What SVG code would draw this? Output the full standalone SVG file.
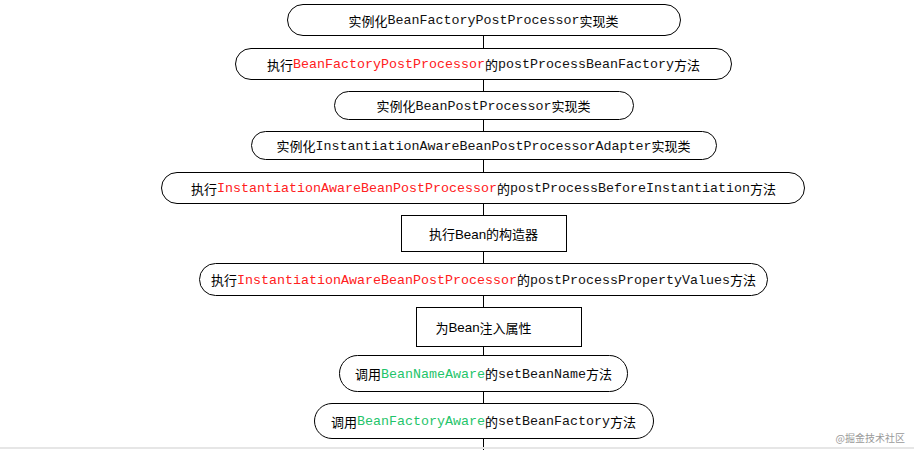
<svg xmlns="http://www.w3.org/2000/svg" width="914" height="450" viewBox="0 0 914 450">
<style>
.n{fill:#fff;stroke:#000;stroke-width:1}
.c{stroke:#000;stroke-width:1;fill:none}
text{font-family:"Noto Sans CJK SC","Liberation Sans",sans-serif;font-size:13px;fill:#000;text-anchor:middle;dominant-baseline:central}
.m{font-family:"Liberation Mono",monospace;font-size:13.33px;fill:#111}
.s{font-family:"Liberation Sans",sans-serif;font-size:13.33px}
.r{fill:#ff2020}
.g{fill:#1fc46a}
.w{font-size:10px;fill:#9a9a9a;text-anchor:end}
</style>
<rect x="0" y="0" width="914" height="450" fill="#fff"/>
<g id="connectors">
<line class="c" x1="483.5" y1="35" x2="483.5" y2="450"/>
</g>
<g id="n1"><rect class="n" x="287.5" y="4.5" width="393" height="31" rx="15.5"/><text x="483.5" y="20">实例化<tspan class="m">BeanFactoryPostProcessor</tspan>实现类</text></g>
<g id="n2"><rect class="n" x="235.5" y="48.5" width="496" height="31" rx="15.5"/><text x="483.5" y="64">执行<tspan class="m r">BeanFactoryPostProcessor</tspan>的<tspan class="m">postProcessBeanFactory</tspan>方法</text></g>
<g id="n3"><rect class="n" x="334.5" y="91.5" width="299" height="28" rx="14"/><text x="483.5" y="105.5">实例化<tspan class="m">BeanPostProcessor</tspan>实现类</text></g>
<g id="n4"><rect class="n" x="251.5" y="131.5" width="465" height="28" rx="14"/><text x="483.5" y="145.5">实例化<tspan class="m">InstantiationAwareBeanPostProcessorAdapter</tspan>实现类</text></g>
<g id="n5"><rect class="n" x="161.5" y="172.5" width="643" height="31" rx="15.5"/><text x="483.5" y="188">执行<tspan class="m r">InstantiationAwareBeanPostProcessor</tspan>的<tspan class="m">postProcessBeforeInstantiation</tspan>方法</text></g>
<g id="n6"><rect class="n" x="401.5" y="215.5" width="165" height="36"/><text x="483.5" y="233.5">执行<tspan class="s">Bean</tspan>的构造器</text></g>
<g id="n7"><rect class="n" x="199.5" y="263.5" width="568" height="32" rx="16"/><text x="483.5" y="279.5">执行<tspan class="m r">InstantiationAwareBeanPostProcessor</tspan>的<tspan class="m">postProcessPropertyValues</tspan>方法</text></g>
<g id="n8"><rect class="n" x="416.5" y="307.5" width="165" height="39"/><text x="483.5" y="327">为<tspan class="s">Bean</tspan>注入属性</text></g>
<g id="n9"><rect class="n" x="339.5" y="355.5" width="288" height="36" rx="18"/><text x="483.5" y="373.5">调用<tspan class="m g">BeanNameAware</tspan>的<tspan class="m">setBeanName</tspan>方法</text></g>
<g id="n10"><rect class="n" x="314.5" y="403.5" width="339" height="35" rx="17.5"/><text x="483.5" y="421">调用<tspan class="m g">BeanFactoryAware</tspan>的<tspan class="m">setBeanFactory</tspan>方法</text></g>
<rect x="0" y="447" width="914" height="2" fill="#e6e6e6"/>
<text class="w" x="905" y="437">@掘金技术社区</text>
</svg>
